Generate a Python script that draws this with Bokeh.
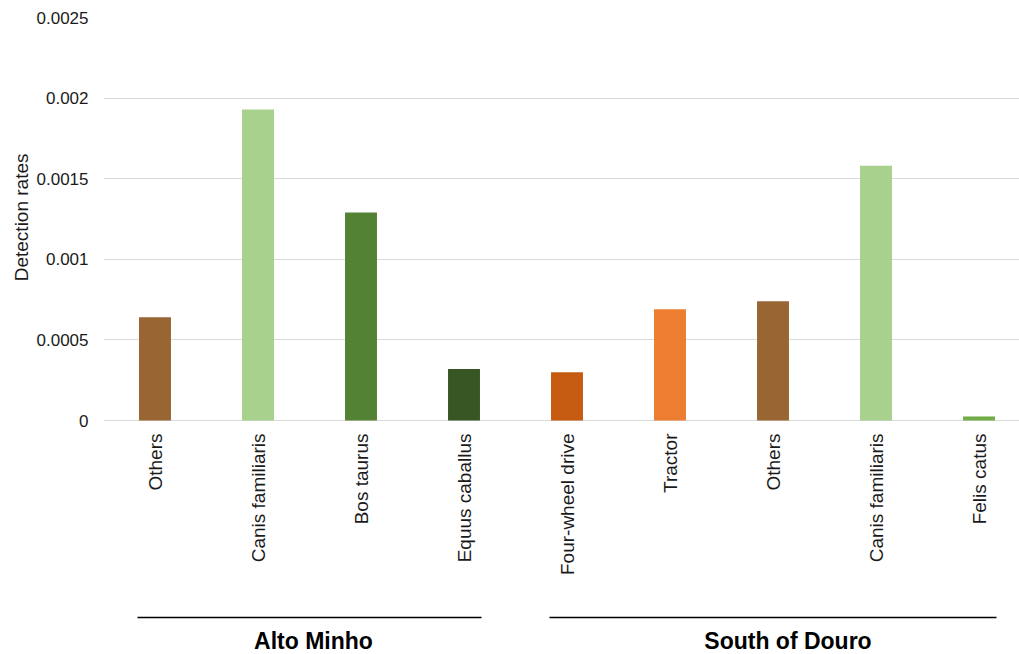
import math
from bokeh.plotting import figure
from bokeh.models import Range1d, FixedTicker, Title
from bokeh.core.properties import value
from bokeh.embed import file_html
from bokeh.resources import INLINE

# ---- data ----
categories = ["Others", "Canis familiaris", "Bos taurus", "Equus caballus",
              "Four-wheel drive", "Tractor", "Others", "Canis familiaris", "Felis catus"]
rates = [0.00064, 0.00193, 0.00129, 0.00032,
         0.00030, 0.00069, 0.00074, 0.00158, 0.000025]
bar_colors = ["#996633", "#A9D18E", "#548235", "#375623",
              "#C55A11", "#ED7D31", "#996633", "#A9D18E", "#70AD47"]
group_names = ["Alto Minho", "South of Douro"]
group_sizes = [4, 5]
y_ticks = [0, 0.0005, 0.001, 0.0015, 0.002, 0.0025]
y_tick_labels = ["0", "0.0005", "0.001", "0.0015", "0.002", "0.0025"]

# ---- layout constants ----
W, H = 1019, 654
FRAME_LEFT = 103
FRAME_TOP = 17
ZERO_PX = 420          # canvas y of the zero line
Y_MAX = 0.0025
CAT_PX = 103           # pixels per category
GROUP_PAD = 0.33
LINE_BELOW_ZERO = 197  # px from zero line to group lines
GROUP_LABEL_SHIFT = [4, 15]  # px horizontal nudge of group titles

px_per_unit = (ZERO_PX - FRAME_TOP) / Y_MAX
y_min = -(H - ZERO_PX) / px_per_unit
x_min = -0.5
x_max = x_min + (W - FRAME_LEFT) / CAT_PX
line_y = -LINE_BELOW_ZERO / px_per_unit

FONT = "Liberation Sans"
TXT = "#1a1a1a"

p = figure(width=W, height=H,
           x_range=Range1d(x_min, x_max), y_range=Range1d(y_min, Y_MAX),
           output_backend="svg", toolbar_location=None,
           x_axis_location=None,
           min_border_left=FRAME_LEFT, min_border_right=0,
           min_border_top=FRAME_TOP, min_border_bottom=0)
p.outline_line_color = None
p.xgrid.visible = False

ax = p.yaxis[0]
ax.ticker = FixedTicker(ticks=y_ticks)
ax.major_label_overrides = dict(zip(y_ticks, y_tick_labels))
ax.axis_line_color = None
ax.major_tick_line_color = None
ax.minor_tick_line_color = None
ax.major_tick_out = 0
ax.major_tick_in = 0
ax.major_label_standoff = 15
ax.major_label_text_font = FONT
ax.major_label_text_font_size = "17px"
ax.major_label_text_color = TXT

p.ygrid.grid_line_color = "#d9d9d9"
p.ygrid.grid_line_width = 1.2

xs = list(range(len(categories)))
p.vbar(x=xs, top=rates, bottom=0, width=0.31, fill_color=bar_colors, line_color=None)

# category labels (rotated)
p.text(x=xs, y=[0] * len(xs), text=categories, angle=math.pi / 2,
       y_offset=13, text_align="right", text_baseline="middle",
       text_font=value(FONT), text_font_size="19px", text_color=TXT)

# group lines and labels
starts = []
s = 0
for n in group_sizes:
    starts.append(s)
    s += n
g_x0 = [st - 0.5 + GROUP_PAD for st in starts]
g_x1 = [st + n - 0.5 - GROUP_PAD for st, n in zip(starts, group_sizes)]
g_c = [st + (n - 1) / 2 for st, n in zip(starts, group_sizes)]
p.segment(x0=g_x0, y0=[line_y] * len(g_x0), x1=g_x1, y1=[line_y] * len(g_x0),
          line_color="black", line_width=1.5)
p.text(x=g_c, y=[line_y] * len(g_c), text=group_names, y_offset=23,
       x_offset=GROUP_LABEL_SHIFT,
       text_align="center", text_baseline="middle",
       text_font=value(FONT), text_font_style="bold", text_font_size="23px",
       text_color="black")

# y axis title (as a left-side title, anchored near the top of the value area)
p.add_layout(Title(text="Detection rates", align="right", offset=136,
                   text_font=FONT, text_font_size="19px", text_font_style="normal",
                   text_color=TXT, standoff=4), "left")

open("out.html", "w").write(file_html(p, INLINE))
